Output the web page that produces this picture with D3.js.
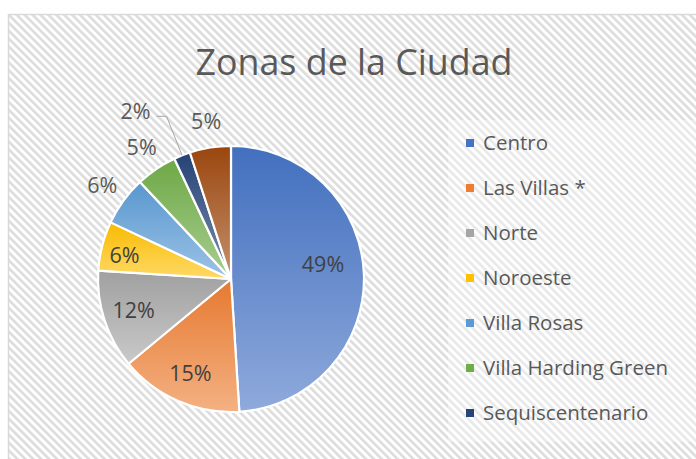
<!DOCTYPE html>
<html>
<head>
<meta charset="utf-8">
<script src="https://cdn.jsdelivr.net/npm/d3@7"></script>
<style>
  html, body { margin: 0; padding: 0; background: #ffffff; }
  svg { display: block; }
</style>
</head>
<body>
<svg id="chart" width="696" height="459"></svg>
<script>
// ---- data ----
const title = "Zonas de la Ciudad";
const categories = ["Centro", "Las Villas *", "Norte", "Noroeste", "Villa Rosas", "Villa Harding Green", "Sequiscentenario", "Otros"];
const values = [49, 15, 12, 6, 6, 5, 2, 5];
const legendCategories = categories.slice(0, 7);

// ---- styling / layout ----
const baseColors = ["#4472C4", "#ED7D31", "#A5A5A5", "#FFC000", "#5B9BD5", "#70AD47", "#264478", "#9E480E"];
const labelPlacement = ["inside", "inside", "inside", "inside", "outside", "outside", "leader", "outside"];
const insideFactor = [0.70, 0.77, 0.77, 0.82, 0, 0, 0, 0];
const labelAngleShiftDeg = [-7, 0, 0, -2, 0, 0, 0, 0];

const W = 696, H = 459;
const cx = 231, cy = 279, R = 133;

const svg = d3.select("#chart");
const defs = svg.append("defs");

// striped background pattern
const pat = defs.append("pattern")
  .attr("id", "stripes")
  .attr("patternUnits", "userSpaceOnUse")
  .attr("width", 5.6).attr("height", 5.6)
  .attr("patternTransform", "rotate(-45)");
pat.append("rect").attr("width", 5.6).attr("height", 5.6).attr("fill", "#ffffff");
pat.append("rect").attr("width", 2.6).attr("height", 5.6).attr("fill", "#dcdcdc");

// chart area
svg.append("rect").attr("x", 0).attr("y", 0).attr("width", W).attr("height", H).attr("fill", "#ffffff");
svg.append("rect")
  .attr("x", 8.5).attr("y", 14.5).attr("width", W + 10).attr("height", H + 10)
  .attr("fill", "url(#stripes)")
  .attr("stroke", "#d9d9d9").attr("stroke-width", 1.5);

// legend backdrop
svg.append("rect")
  .attr("x", 448).attr("y", 120).attr("width", 250).attr("height", 322)
  .attr("fill", "#ffffff").attr("opacity", 0.35);

// gradients per slice
const lighten = (c, t) => d3.interpolateRgb(c, "#ffffff")(t);
baseColors.forEach((c, i) => {
  const g = defs.append("linearGradient")
    .attr("id", "grad" + i)
    .attr("x1", 0).attr("y1", 0).attr("x2", 0).attr("y2", 1);
  g.append("stop").attr("offset", "0%").attr("stop-color", d3.color(c).darker(0.08));
  g.append("stop").attr("offset", "100%").attr("stop-color", lighten(c, 0.4));
});

// title
svg.append("text")
  .attr("x", 354).attr("y", 75)
  .attr("text-anchor", "middle")
  .attr("font-family", "'Open Sans', sans-serif")
  .attr("font-size", 36)
  .attr("fill", "#595959")
  .attr("textLength", 317)
  .attr("lengthAdjust", "spacingAndGlyphs")
  .text(title);

// pie
const pie = d3.pie().sort(null).value(d => d)
  .startAngle(0).endAngle(2 * Math.PI);
const arcs = pie(values);
const arc = d3.arc().innerRadius(0).outerRadius(R);

const g = svg.append("g").attr("transform", `translate(${cx},${cy})`);
g.selectAll("path.slice")
  .data(arcs)
  .join("path")
  .attr("class", "slice")
  .attr("d", arc)
  .attr("fill", (d, i) => `url(#grad${i})`)
  .attr("stroke", "#ffffff")
  .attr("stroke-width", 2.2)
  .attr("stroke-linejoin", "round");

// labels
const pct = d => d3.format(".0f")(d.value) + "%";
const fontLbl = "'Open Sans', sans-serif";
arcs.forEach((d, i) => {
  const mid = (d.startAngle + d.endAngle) / 2 + labelAngleShiftDeg[i] * Math.PI / 180;
  const sx = Math.sin(mid), sy = -Math.cos(mid);
  let x, y, fill;
  if (labelPlacement[i] === "inside") {
    const r = R * insideFactor[i];
    x = sx * r; y = sy * r; fill = "#404040";
  } else if (labelPlacement[i] === "outside") {
    const r = R + 26;
    x = sx * r; y = sy * r; fill = "#595959";
  } else {
    // leader line label
    const ex = sx * R, ey = sy * R;
    const kx = sx * (R + 42), ky = sy * (R + 42);
    const lx = kx - 10;
    g.append("path")
      .attr("d", `M${ex},${ey}L${kx},${ky}L${lx},${ky}`)
      .attr("fill", "none")
      .attr("stroke", "#a6a6a6")
      .attr("stroke-width", 1);
    x = lx - 21; y = ky - 5; fill = "#595959";
  }
  g.append("text")
    .attr("x", x).attr("y", y)
    .attr("dy", "0.35em")
    .attr("text-anchor", "middle")
    .attr("font-family", fontLbl)
    .attr("font-size", 21.5)
    .attr("fill", fill)
    .text(pct(d));
});

// legend
const legendY = d3.scalePoint().domain(legendCategories).range([143, 413]);
const lg = svg.append("g");
const items = lg.selectAll("g.item").data(legendCategories).join("g")
  .attr("class", "item")
  .attr("transform", d => `translate(466,${legendY(d)})`);
items.append("rect")
  .attr("x", 0).attr("y", -4).attr("width", 8).attr("height", 8)
  .attr("fill", (d, i) => baseColors[i]);
items.append("text")
  .attr("x", 17).attr("y", 0).attr("dy", "0.35em")
  .attr("font-family", "'Open Sans', sans-serif")
  .attr("font-size", 20.5)
  .attr("fill", "#595959")
  .text(d => d);
</script>
</body>
</html>
